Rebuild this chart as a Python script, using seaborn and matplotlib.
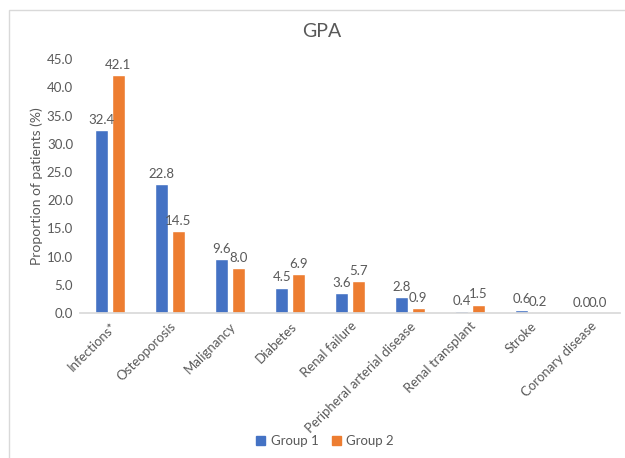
import matplotlib
matplotlib.use("Agg")
import matplotlib.pyplot as plt
from matplotlib.patches import Rectangle
import seaborn as sns
import pandas as pd

categories = ["Infections*", "Osteoporosis", "Malignancy", "Diabetes", "Renal failure",
              "Peripheral arterial disease", "Renal transplant", "Stroke", "Coronary disease"]
group1 = [32.4, 22.8, 9.6, 4.5, 3.6, 2.8, 0.4, 0.6, 0.0]
group2 = [42.1, 14.5, 8.0, 6.9, 5.7, 0.9, 1.5, 0.2, 0.0]
series = ["Group 1", "Group 2"]
yticks = [0, 5, 10, 15, 20, 25, 30, 35, 40, 45]

df = pd.DataFrame({
    "category": categories * 2,
    "value": group1 + group2,
    "group": [series[0]] * len(categories) + [series[1]] * len(categories),
})

sns.set_theme(style="white")
plt.rcParams["font.family"] = ["Lato", "DejaVu Sans"]
text_color = "#595959"

fig = plt.figure(figsize=(6.25, 4.58), dpi=100)
ax = fig.add_axes([0.128, 0.3166, 0.864, 0.5544])

palette = {"Group 1": "#4472C4", "Group 2": "#ED7D31"}
sns.barplot(data=df, x="category", y="value", hue="group", palette=palette,
            width=0.55, gap=0.2, ax=ax, legend=False, saturation=1)

for cont in ax.containers:
    ax.bar_label(cont, fmt="%.1f", padding=3, fontsize=9.5, color=text_color)

ax.set_ylim(0, 45)
ax.set_yticks(yticks)
ax.set_yticklabels([f"{v:.1f}" for v in yticks], fontsize=9.5, color=text_color)
ax.set_xticks(range(len(categories)))
ax.set_xticklabels(categories, rotation=45, ha="right", rotation_mode="anchor",
                   fontsize=9.5, color=text_color)
ax.tick_params(axis="both", length=0, pad=5)
ax.set_xlabel("")
ax.set_ylabel("Proportion of patients (%)", fontsize=10, color=text_color, labelpad=3)
ax.set_xlim(-0.5, len(categories) - 0.5)

for s in ["top", "right", "left"]:
    ax.spines[s].set_visible(False)
ax.spines["bottom"].set_color("#d9d9d9")
ax.grid(False)

fig.suptitle("GPA", x=0.515, y=0.95, fontsize=14, color=text_color)

handles = [plt.Rectangle((0, 0), 1, 1, color=palette[s]) for s in series]
fig.legend(handles, series, loc="center", bbox_to_anchor=(0.52, 0.037), ncol=2,
           frameon=False, fontsize=9.5, handlelength=0.7, handleheight=0.7,
           handletextpad=0.4, columnspacing=1.0, labelcolor=text_color)

border = Rectangle((9 / 625, -0.02), 1.0, 1 - 10 / 458 + 0.02, transform=fig.transFigure,
                   fill=False, edgecolor="#d9d9d9", linewidth=1)
fig.patches.append(border)

fig.savefig("out.png", dpi=100)
